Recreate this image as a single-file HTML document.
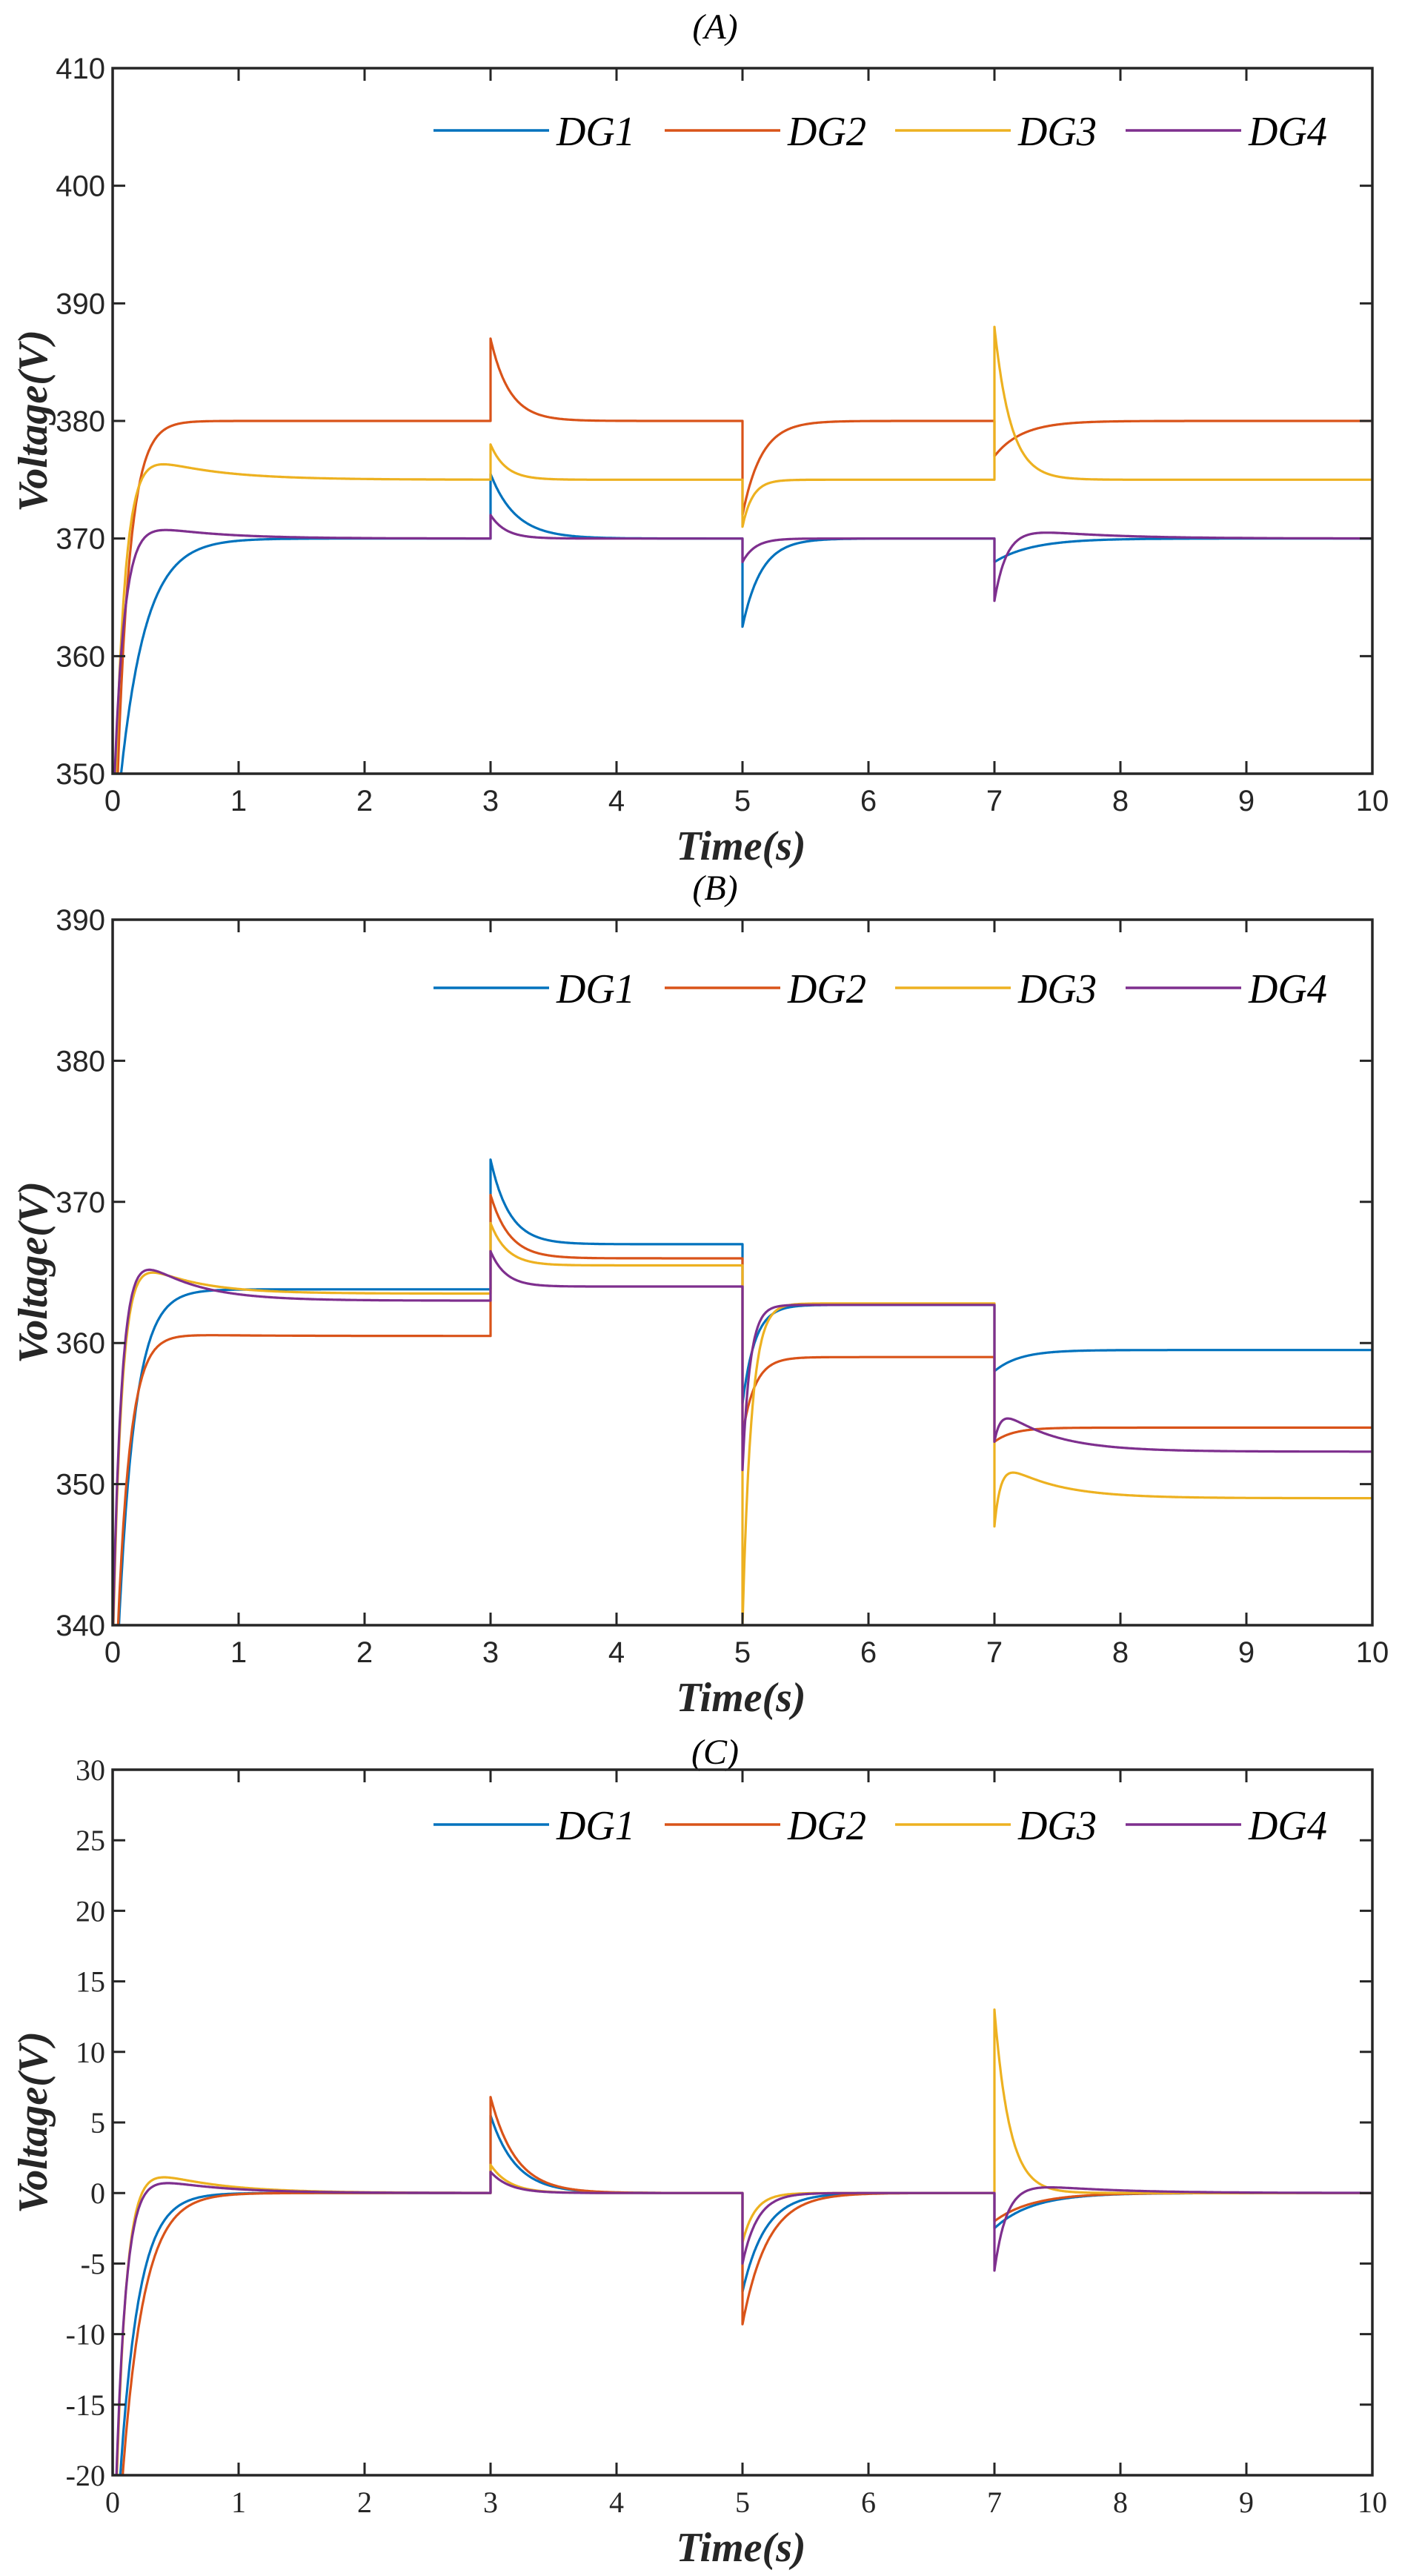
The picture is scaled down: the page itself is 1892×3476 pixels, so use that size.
<!DOCTYPE html>
<html><head><meta charset="utf-8">
<style>
html,body{margin:0;padding:0;background:#fff;}
svg{display:block;}
.tk{font-family:"Liberation Sans",Arial,sans-serif;font-size:40px;fill:#262626;}
.tkc{font-family:"Liberation Serif","Times New Roman",serif;font-size:40px;fill:#262626;}
.xl{font-family:"Liberation Serif","Times New Roman",serif;font-size:56px;font-style:italic;font-weight:bold;fill:#262626;}
.ti{font-family:"Liberation Serif","Times New Roman",serif;font-size:48px;font-style:italic;fill:#000;}
.lg{font-family:"Liberation Serif","Times New Roman",serif;font-size:56px;font-style:italic;fill:#000;}
</style></head>
<body>
<svg id="s" width="1892" height="3476" xmlns="http://www.w3.org/2000/svg">
<defs>
<clipPath id="cA"><rect x="152" y="92" width="1700" height="952"/></clipPath>
<clipPath id="cB"><rect x="152" y="1241" width="1700" height="952"/></clipPath>
<clipPath id="cC"><rect x="152" y="2388" width="1700" height="952"/></clipPath>
</defs>
<text class="ti" x="965" y="52" text-anchor="middle">(A)</text>
<text class="ti" x="965" y="1214" text-anchor="middle">(B)</text>
<text class="ti" x="965" y="2380" text-anchor="middle">(C)</text>
<text class="xl" x="1000" y="1160" text-anchor="middle">Time(s)</text>
<text class="xl" x="1000" y="2309" text-anchor="middle">Time(s)</text>
<text class="xl" x="1000" y="3456" text-anchor="middle">Time(s)</text>
<text class="xl" transform="translate(63,568) rotate(-90)" text-anchor="middle">Voltage(V)</text>
<text class="xl" transform="translate(63,1717) rotate(-90)" text-anchor="middle">Voltage(V)</text>
<text class="xl" transform="translate(63,2864) rotate(-90)" text-anchor="middle">Voltage(V)</text>
<g id="g"></g>
</svg>
<script>
var NS="http://www.w3.org/2000/svg",g=document.getElementById('g');
function el(t,a,txt){var e=document.createElementNS(NS,t);for(var k in a)e.setAttribute(k,a[k]);if(txt!==undefined)e.textContent=txt;g.appendChild(e);return e;}
var C=['#0072BD','#D95319','#EDB120','#7E2F8E'];
var X0=152,X1=1852,sx=(X1-X0)/10;
function panel(P){
  var top=P.top,bot=top+952,ymin=P.ymin,ymax=P.ymax;
  function Y(v){return bot-(v-ymin)/(ymax-ymin)*952;}
  function X(t){return X0+t*sx;}
  P.series.forEach(function(segs,i){
    var d='';
    if(P.start&&P.start[i]!=null){d+='M'+X(0)+','+Y(P.start[i]).toFixed(1)+' ';}
    for(var k=0;k<segs.length;k++){
      var s=segs[k],t0=s[0],t1=k+1<segs.length?segs[k+1][0]:10;
      var n=Math.round((t1-t0)*200);
      for(var j=0;j<=n;j++){
        var tt=t0+(t1-t0)*j/n,u=tt-t0;
        var v=s[1]+s[2]*Math.exp(-u/s[3])+s[4]*Math.exp(-u/s[5]);
        d+=(d===''?'M':'L')+X(tt).toFixed(1)+','+Y(v).toFixed(1)+' ';
      }
    }
    el('path',{d:d,fill:'none',stroke:C[i],'stroke-width':3.2,'clip-path':'url(#'+P.clip+')','stroke-linejoin':'round'});
  });
  el('rect',{x:X0,y:top,width:X1-X0,height:952,fill:'none',stroke:'#262626','stroke-width':3.5});
  for(var t=0;t<=10;t++){
    var x=X(t);
    el('line',{x1:x,y1:bot,x2:x,y2:bot-17,stroke:'#262626','stroke-width':3});
    el('line',{x1:x,y1:top,x2:x,y2:top+17,stroke:'#262626','stroke-width':3});
    el('text',{'class':P.cls,x:x,y:bot+50,'text-anchor':'middle'},String(t));
  }
  for(var v=ymin;v<=ymax+1e-6;v+=P.step){
    var y=Y(v);
    el('line',{x1:X0,y1:y,x2:X0+17,y2:y,stroke:'#262626','stroke-width':3});
    el('line',{x1:X1,y1:y,x2:X1-17,y2:y,stroke:'#262626','stroke-width':3});
    el('text',{'class':P.cls,x:142,y:y+14,'text-anchor':'end'},String(v));
  }
  var ly=P.ly,lx=[585,897,1208,1519];
  for(var i=0;i<4;i++){
    el('line',{x1:lx[i],y1:ly,x2:lx[i]+156,y2:ly,stroke:C[i],'stroke-width':3.5});
    el('text',{'class':'lg',x:lx[i]+166,y:ly+20,textLength:106,lengthAdjust:'spacingAndGlyphs'},'DG'+(i+1));
  }
}
panel({top:92,ymin:350,ymax:410,step:10,clip:'cA',cls:'tk',ly:176,start:[null,null,null,410],
series:[
 [[0,370,-28,0.2,0,1],[3,370,5.5,0.2,0,1],[5,370,-7.5,0.15,0,1],[7,370,-2,0.3,0,1]],
 [[0,380,-45,0.1,0,1],[3,380,7,0.15,0,1],[5,380,-8,0.15,0,1],[7,380,-3,0.22,0,1]],
 [[0,375,-39,0.08,3.5,0.5],[3,375,3,0.12,0,1],[5,375,-4,0.08,0,1],[7,375,13,0.13,0,1]],
 [[0,370,-27,0.08,2,0.5],[3,370,2,0.12,0,1],[5,370,-2,0.1,0,1],[7,370,-6.5,0.1,1.2,0.6]]
]});
panel({top:1241,ymin:340,ymax:390,step:10,clip:'cB',cls:'tk',ly:1333,start:[null,null,null,390],
series:[
 [[0,363.8,-35,0.13,0,1],[3,367,6,0.15,0,1],[5,362.7,-7,0.1,0,1],[7,359.5,-1.5,0.2,0,1]],
 [[0,360.5,-32,0.1,0.3,0.5],[3,366,4.5,0.15,0,1],[5,359,-5.5,0.1,0,1],[7,354,-1,0.15,0,1]],
 [[0,363.5,-30,0.07,4,0.4],[3,365.5,3,0.13,0,1],[5,362.8,-22.8,0.07,0,1],[7,349,-5,0.05,3,0.4]],
 [[0,363,-30,0.07,5.5,0.4],[3,364,2.5,0.12,0,1],[5,362.7,-11.7,0.06,0,1],[7,352.3,-2.8,0.05,3.5,0.4]]
]});
panel({top:2388,ymin:-20,ymax:30,step:5,clip:'cC',cls:'tkc',ly:2462,start:[null,null,null,30],
series:[
 [[0,0,-30,0.15,0,1],[3,0,5.5,0.2,0,1],[5,0,-7,0.18,0,1],[7,0,-2.5,0.3,0,1]],
 [[0,0,-32,0.17,0,1],[3,0,6.8,0.2,0,1],[5,0,-9.3,0.2,0,1],[7,0,-2,0.3,0,1]],
 [[0,0,-35,0.08,3,0.5],[3,0,2,0.15,0,1],[5,0,-3.5,0.1,0,1],[7,0,13,0.12,0,1]],
 [[0,0,-32,0.08,2,0.5],[3,0,1.5,0.15,0,1],[5,0,-5,0.12,0,1],[7,0,-6.5,0.1,1,0.6]]
]});
</script>
</body></html>
